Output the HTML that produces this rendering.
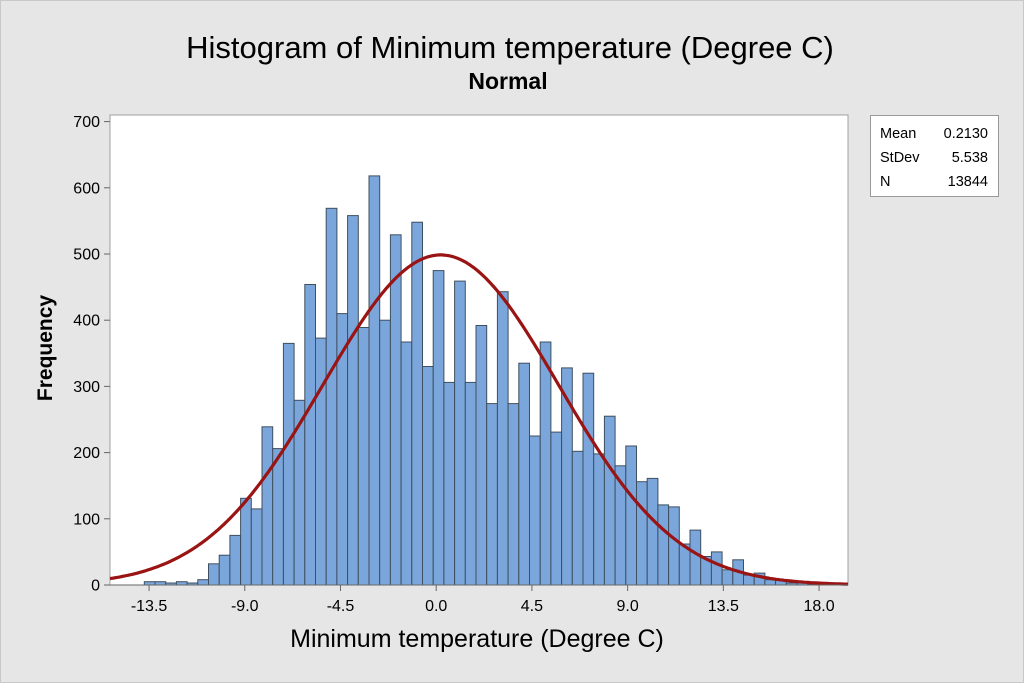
<!DOCTYPE html>
<html><head><meta charset="utf-8"><style>
html,body{margin:0;padding:0;background:#e6e6e6;}
svg{display:block;font-family:"Liberation Sans",sans-serif;}
</style></head><body>
<svg id="s" width="1024" height="683" viewBox="0 0 1024 683" xmlns="http://www.w3.org/2000/svg">
<rect x="0.5" y="0.5" width="1023" height="682" fill="#e6e6e6" stroke="#c8c8c8"/>
<text x="510" y="58" text-anchor="middle" font-size="31" fill="#000">Histogram of Minimum temperature (Degree C)</text>
<text x="508" y="89" text-anchor="middle" font-size="23" font-weight="bold" fill="#000">Normal</text>
<rect x="110" y="115" width="738" height="470" fill="#fff" stroke="#a0a0a0"/>
<g id="bars"></g>
<path id="curve" fill="none" stroke="#9a1414" stroke-width="3.2"/>
<line x1="110" y1="585" x2="848" y2="585" stroke="#666"/>
<g id="ticks" font-size="16" fill="#000"></g>
<text x="477" y="647" text-anchor="middle" font-size="25" fill="#000">Minimum temperature (Degree C)</text>
<text transform="translate(52,348) rotate(-90)" text-anchor="middle" font-size="21" font-weight="bold" fill="#000">Frequency</text>
<rect x="870.5" y="115.5" width="128" height="81" fill="#fff" stroke="#999"/>
<g font-size="14.5" fill="#000">
<text x="880" y="138">Mean</text><text x="988" y="138" text-anchor="end">0.2130</text>
<text x="880" y="162">StDev</text><text x="988" y="162" text-anchor="end">5.538</text>
<text x="880" y="186">N</text><text x="988" y="186" text-anchor="end">13844</text>
</g>
</svg>
<script>
var h=[5,5,3,5,3,8,32,45,75,131,115,239,206,365,279,454,373,569,410,558,389,618,400,529,367,548,330,475,306,459,306,392,274,443,274,335,225,367,231,328,202,320,198,255,180,210,156,161,121,118,62,83,43,50,23,38,15,18,8,8,3,3,1];
var g=document.getElementById("bars"),s="";
for(var i=0;i<h.length;i++){var x=144.3+i*10.7,y=585-h[i]*0.662;
s+='<rect x="'+x.toFixed(1)+'" y="'+y.toFixed(1)+'" width="10.7" height="'+(585-y).toFixed(1)+'" fill="#7ba6dc" stroke="#3f4f5f" stroke-width="1"/>';}
g.innerHTML=s;
var d="";for(var px=110;px<=848;px+=2){var v=(px-436.2)/21.27,z=(v-0.213)/5.538,f=498.6*Math.exp(-z*z/2);
d+=(px==110?"M":"L")+px+","+(585-f*0.662).toFixed(1);}
document.getElementById("curve").setAttribute("d",d);
var t="";var yt=[0,100,200,300,400,500,600,700];
yt.forEach(function(v){var y=585-v*0.662;t+='<line x1="104" y1="'+y+'" x2="110" y2="'+y+'" stroke="#666"/><text x="100" y="'+(y+5.5)+'" text-anchor="end">'+v+'</text>';});
var xt=["-13.5","-9.0","-4.5","0.0","4.5","9.0","13.5","18.0"];
xt.forEach(function(l){var x=436.2+parseFloat(l)*21.27;t+='<line x1="'+x+'" y1="585" x2="'+x+'" y2="591" stroke="#666"/><text x="'+x+'" y="611" text-anchor="middle">'+l+'</text>';});
document.getElementById("ticks").innerHTML=t;
</script>
</body></html>
